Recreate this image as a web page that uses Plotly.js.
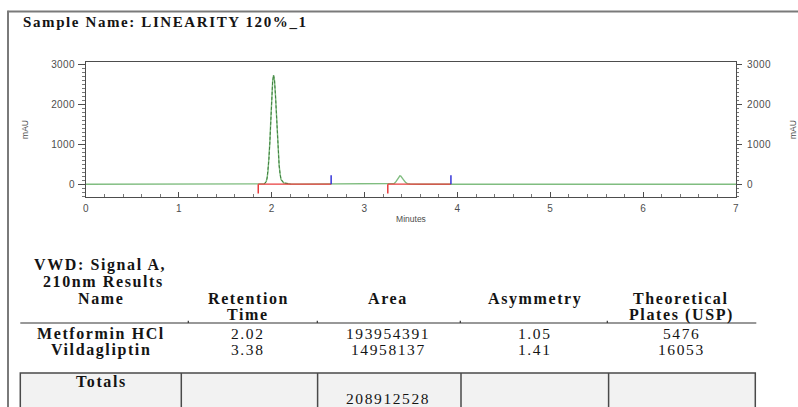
<!DOCTYPE html>
<html><head><meta charset="utf-8">
<script src="https://cdn.plot.ly/plotly-3.0.1.min.js"></script>
<style>
html,body{margin:0;padding:0;background:#fff;}
#chart{width:798px;height:407px;}
.annotation-text{letter-spacing:1.6px;}
.xtick text,.ytick text,.y2tick text{letter-spacing:0.4px;}
</style></head><body><div id="chart"></div>
<script>
// ---- chromatogram data ----
const timeMin   = [0, 1.85, 1.90, 1.92, 1.94, 1.95, 1.96, 1.97, 1.98, 1.99, 2.00, 2.01, 2.02, 2.03, 2.04, 2.05, 2.06, 2.07, 2.08, 2.09, 2.10, 2.13, 2.16, 2.20, 2.30,
                   3.25, 3.30, 3.32, 3.34, 3.36, 3.37, 3.38, 3.39, 3.40, 3.42, 3.44, 3.46, 3.49, 3.53, 3.60, 7.0];
const signalMAU = [0, 0, 0.5, 7, 61, 148, 320, 616, 1050, 1594, 2144, 2563, 2720, 2590, 2238, 1753, 1246, 803, 468, 260, 120, 30, 12, 5, 1,
                   0, 3, 18, 70, 160, 196, 210, 201, 178, 109, 48, 15, 4, 1, 0, 0];
// integration events (baseline start / end), minutes
const eventStart = [1.855, 3.25];
const eventEnd   = [2.64, 3.93];
const xTickVals = [0, 1, 2, 3, 4, 5, 6, 7];
const yTickVals = [0, 1000, 2000, 3000];

// ---- results table ----
const sampleName = "LINEARITY 120%_1";
const peakNames = ["Metformin HCl", "Vildagliptin"];
const retentionTimes = ["2.02", "3.38"];
const peakAreas = ["193954391", "14958137"];
const asymmetry = ["1.05", "1.41"];
const theoreticalPlates = ["5476", "16053"];
const totalArea = "208912528";
const columnHeaders = [["Name"], ["Retention", "Time"], ["Area"], ["Asymmetry"], ["Theoretical", "Plates (USP)"]];

// ---- layout geometry (pixels) ----
const W = 798, H = 407;
const L = 85.7, R = 735.7, T = 62.3, B = 197.3;
const px = x => (x - L) / (R - L);
const py = y => (B - y) / (B - T);

const serif = 'Liberation Serif, Times New Roman, serif';
const sans = 'Liberation Sans, Arial, sans-serif';
const axisGray = '#4d4d4d';

function ann(text, x, y, size, bold, anchor) {
  return {xref: 'paper', yref: 'paper', x: px(x), y: py(y), xanchor: anchor || 'center', yanchor: 'middle',
          showarrow: false, text: bold ? '<b>' + text + '</b>' : text,
          font: {family: serif, size: size, color: '#141414'}};
}

const colX = [101, 248, 388, 535, 681];
const annotations = [];
annotations.push(ann('Sample Name: ' + sampleName, 20.5, 22, 15, true, 'left'));
annotations.push(ann('VWD: Signal A,', 100, 265, 16, true));
annotations.push(ann('210nm Results', 103, 282, 16, true));
columnHeaders.forEach((lines, i) => {
  lines.forEach((t, j) => annotations.push(ann(t, colX[i], 299 + j * 16, 16, true)));
});
const rowY = [334, 350];
peakNames.forEach((n, i) => {
  annotations.push(ann(n, colX[0], rowY[i], 16, true));
  annotations.push(ann(retentionTimes[i], colX[1], rowY[i], 15.5, false));
  annotations.push(ann(peakAreas[i], colX[2], rowY[i], 15.5, false));
  annotations.push(ann(asymmetry[i], colX[3], rowY[i], 15.5, false));
  annotations.push(ann(theoreticalPlates[i], colX[4], rowY[i], 15.5, false));
});
annotations.push(ann('Totals', 101, 382, 16, true));
annotations.push(ann(totalArea, colX[2], 398.5, 15.5, false));

function hline(x0, x1, y, color, width) {
  return {type: 'line', xref: 'paper', yref: 'paper', x0: px(x0), x1: px(x1), y0: py(y), y1: py(y), line: {color: color, width: width}};
}
function vline(x, y0, y1, color, width) {
  return {type: 'line', xref: 'paper', yref: 'paper', x0: px(x), x1: px(x), y0: py(y0), y1: py(y1), line: {color: color, width: width}};
}
const shapes = [
  hline(7, 800, 11.8, '#7a7a7a', 2),
  vline(7.7, 11, 410, '#7a7a7a', 2),
  hline(20, 756, 323.3, '#333', 1.2),
  {type: 'rect', xref: 'paper', yref: 'paper', x0: px(20), x1: px(755), y0: py(373.3), y1: py(412),
   fillcolor: '#f2f2f2', line: {color: '#4a4a4a', width: 1.5}, layer: 'below'}
];
[188, 317, 460, 607].forEach(x => shapes.push(vline(x, 321, 323.3, '#333', 1.2)));
[181, 317.3, 460.7, 608.3].forEach(x => shapes.push(vline(x, 373.3, 412, '#4a4a4a', 1.5)));

// ---- traces ----
const peakX = [], peakY = [];
timeMin.forEach((t, i) => { if (signalMAU[i] > 2 && t < 2.5) { peakX.push(t); peakY.push(signalMAU[i]); } });

const segX = [], segY = [], stX = [], stY = [], enX = [], enY = [];
eventStart.forEach((s, i) => {
  segX.push(s, eventEnd[i], null); segY.push(0, 0, null);
  stX.push(s, s, null); stY.push(0, -230, null);
  enX.push(eventEnd[i], eventEnd[i], null); enY.push(0, 220, null);
});

const traces = [
  {x: timeMin, y: signalMAU, mode: 'lines', line: {color: '#80bd80', width: 1.4}, xaxis: 'x', yaxis: 'y'},
  {x: peakX, y: peakY, mode: 'lines', line: {color: '#3f7f3f', width: 1, dash: '3px,2px'}, xaxis: 'x', yaxis: 'y'},
  {x: segX, y: segY, mode: 'lines', line: {color: '#e83c3c', width: 1.3}, xaxis: 'x', yaxis: 'y2'},
  {x: stX, y: stY, mode: 'lines', line: {color: '#e83c3c', width: 1.5}, xaxis: 'x', yaxis: 'y2'},
  {x: enX, y: enY, mode: 'lines', line: {color: '#3535d8', width: 1.5}, xaxis: 'x', yaxis: 'y2'}
];

const yRange = [-320, 3050];
const tickFont = {family: sans, size: 10, color: axisGray};
const titleFont = {family: sans, size: 8.5, color: axisGray};

const layout = {
  width: W, height: H, autosize: false,
  margin: {l: L, r: W - R, t: T, b: H - B, pad: 0},
  paper_bgcolor: '#fff', plot_bgcolor: '#fff',
  showlegend: false, hovermode: false,
  xaxis: {range: [0, 7], tickmode: 'array', tickvals: xTickVals, ticktext: xTickVals.map(String),
          ticks: 'inside', ticklen: 5, tickcolor: axisGray, tickwidth: 1,
          minor: {tickmode: 'linear', tick0: 0, dtick: 0.2, ticks: 'inside', ticklen: 3, tickcolor: '#777'},
          showline: true, linecolor: axisGray, linewidth: 1, mirror: true,
          showgrid: false, zeroline: false, tickfont: tickFont, ticklabelstandoff: 2,
          title: {text: 'Minutes', font: titleFont, standoff: 3}},
  yaxis: {range: yRange, tickmode: 'array', tickvals: yTickVals, ticktext: yTickVals.map(String),
          ticks: 'outside', ticklen: 7, tickcolor: axisGray,
          minor: {tickmode: 'linear', tick0: 0, dtick: 100, ticks: 'outside', ticklen: 3, tickcolor: '#777'},
          showline: true, linecolor: axisGray, linewidth: 1, mirror: false,
          showgrid: false, zeroline: false, tickfont: tickFont, ticklabelstandoff: 1,
          title: {text: 'mAU', font: titleFont, standoff: 21}},
  yaxis2: {range: yRange, overlaying: 'y', side: 'right', tickmode: 'array', tickvals: yTickVals, ticktext: yTickVals.map(String),
          ticks: 'outside', ticklen: 5, tickcolor: axisGray,
          minor: {tickmode: 'linear', tick0: 0, dtick: 100, ticks: 'outside', ticklen: 2, tickcolor: '#777'},
          showline: true, linecolor: axisGray, linewidth: 1,
          showgrid: false, zeroline: false, tickfont: tickFont, ticklabelstandoff: 3,
          title: {text: 'mAU', font: titleFont, standoff: 23}},
  shapes: shapes,
  annotations: annotations
};

Plotly.newPlot('chart', traces, layout, {staticPlot: true, displayModeBar: false});
</script></body></html>
